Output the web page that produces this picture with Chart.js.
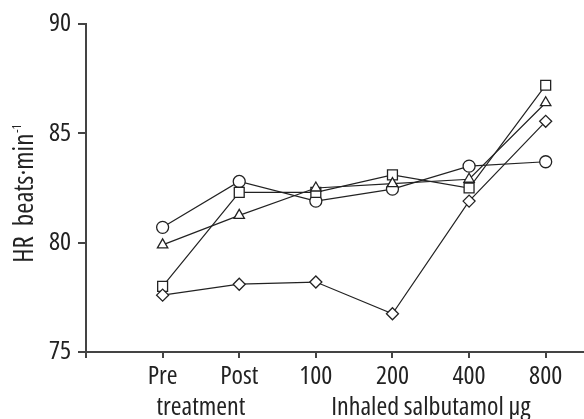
<!DOCTYPE html>
<html>
<head>
<meta charset="utf-8">
<script src="https://cdn.jsdelivr.net/npm/chart.js@4"></script>
<style>
html, body { margin: 0; padding: 0; background: #fff; }
</style>
</head>
<body>
<canvas id="myChart" width="584" height="419"></canvas>
<script>
// Heart rate per dose step
const xLabels = ['Pre', 'Post', '100', '200', '400', '800'];
const circleHR = [80.7, 82.8, 81.9, 82.45, 83.5, 83.7];
const squareHR = [78.0, 82.3, 82.3, 83.1, 82.5, 87.2];
const triangleHR = [79.9, 81.25, 82.5, 82.7, 82.9, 86.4];
const diamondHR = [77.6, 78.1, 78.2, 76.75, 81.9, 85.55];
const yTicks = [75, 80, 85, 90];
const groupLabels = ['treatment', 'Inhaled salbutamol μg'];
const groupCentres = [0.5, 3.5]; // in x index units

const FAMILY = '"Open Sans", "Liberation Sans", Arial, sans-serif';
const STRETCH = 'condensed';
const SIZE = 26;
const INK = '#222';
const AXIS = '#444';

function toPoints(values) {
    return values.map((v, i) => ({ x: i, y: v }));
}

function series(values, style, radius) {
    return {
        data: toPoints(values),
        borderColor: INK,
        borderWidth: 1.2,
        pointStyle: style,
        pointRadius: radius,
        pointBackgroundColor: '#fff',
        pointBorderColor: INK,
        pointBorderWidth: 1.3,
        tension: 0
    };
}

// draws the two group captions under the axis and the rotated y title
const extraText = {
    id: 'extraText',
    afterDraw(chart) {
        const ctx = chart.ctx;
        const xs = chart.scales.x;
        ctx.save();
        ctx.fillStyle = INK;
        ctx.font = STRETCH + ' ' + SIZE + 'px ' + FAMILY;
        ctx.textAlign = 'center';
        ctx.textBaseline = 'alphabetic';
        groupLabels.forEach((t, i) => {
            ctx.fillText(t, xs.getPixelForValue(groupCentres[i]), 415);
        });

        // y axis title with superscript, baseline sits at x = 33
        ctx.translate(33, 194);
        ctx.rotate(-Math.PI / 2);
        const main = 'HR  beats·min';
        const sup = '-1';
        const big = STRETCH + ' 27px ' + FAMILY;
        const small = STRETCH + ' 12px ' + FAMILY;
        ctx.font = big;
        const w1 = ctx.measureText(main).width;
        ctx.font = small;
        const w2 = ctx.measureText(sup).width;
        const start = -(w1 + w2) / 2;
        ctx.textAlign = 'left';
        ctx.font = big;
        ctx.fillText(main, start, 0);
        ctx.font = small;
        ctx.fillText(sup, start + w1 + 1, -12);
        ctx.restore();
    }
};

const tickFont = { family: FAMILY, size: SIZE, weight: STRETCH };

const ctx = document.getElementById('myChart').getContext('2d');
const myChart = new Chart(ctx, {
    type: 'line',
    data: {
        datasets: [
            series(diamondHR, 'rectRot', 6),
            series(triangleHR, 'triangle', 6),
            series(squareHR, 'rect', 7),
            series(circleHR, 'circle', 6)
        ]
    },
    options: {
        responsive: false,
        animation: false,
        layout: {
            autoPadding: false,
            padding: { top: 24, right: 0, left: 0, bottom: 0 }
        },
        plugins: {
            legend: { display: false },
            tooltip: { enabled: false }
        },
        scales: {
            x: {
                type: 'linear',
                min: -1,
                max: 5.5,
                afterBuildTicks: function(scale) {
                    scale.ticks = [-1, 0, 1, 2, 3, 4, 5].map(v => ({ value: v }));
                },
                afterFit: function(scale) {
                    scale.height = 67;
                    scale.paddingLeft = 0;
                    scale.paddingRight = 0;
                },
                ticks: {
                    color: INK,
                    font: tickFont,
                    padding: 3,
                    maxRotation: 0,
                    autoSkip: false,
                    callback: function(value) {
                        return value >= 0 ? xLabels[value] : '';
                    }
                },
                grid: {
                    drawOnChartArea: false,
                    color: AXIS,
                    lineWidth: 2,
                    tickLength: 6
                },
                border: { color: AXIS, width: 2 }
            },
            y: {
                min: 75,
                max: 90,
                afterBuildTicks: function(scale) {
                    scale.ticks = yTicks.map(v => ({ value: v }));
                },
                afterFit: function(scale) {
                    scale.width = 86;
                },
                ticks: {
                    color: INK,
                    font: tickFont,
                    padding: 7
                },
                grid: {
                    drawOnChartArea: false,
                    color: AXIS,
                    lineWidth: 2,
                    tickLength: 8
                },
                border: { color: AXIS, width: 2 }
            }
        }
    },
    plugins: [extraText]
});
</script>
</body>
</html>
